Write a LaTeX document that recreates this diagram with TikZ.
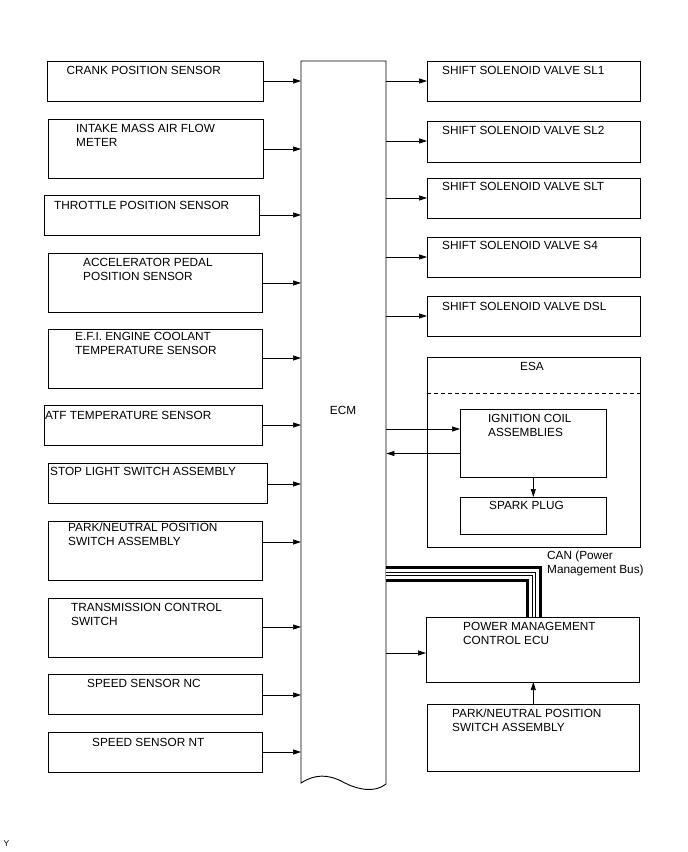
\documentclass[tikz,border=0pt]{standalone}
\usepackage{fontspec}
\setmainfont{Liberation Sans}
\usetikzlibrary{arrows.meta}
\newcommand\bx[5]{\node[box, minimum width={#4pt-#2pt}, minimum height={#5pt-#3pt}] (#1) at (#2,#3) {};}
\begin{document}
\begin{tikzpicture}[x=1pt,y=-1pt,
  box/.style={draw, line width=0.9pt, inner sep=0, outer sep=0, anchor=north west},
  lbl/.style={anchor=base west, inner sep=0, align=left, font=\fontsize{11.8}{14}\selectfont},
  arr/.style={line width=0.7pt, -{Triangle[length=8pt,width=5pt]}},
]
\useasboundingbox (0,0) rectangle (688,852);
% ECM
\node[inner sep=0, minimum width=85pt, minimum height=722pt, anchor=north west] (ecm) at (301,61) {};
\draw[line width=0.9pt] (301,783) -- (301,61) -- (386,61) -- (386,784)
  .. controls (375,793) and (358,790) .. (343,782)
  .. controls (328,774) and (315,774) .. (301,783) -- cycle;
\node[font=\fontsize{11.8}{14}\selectfont] (ecmt) at (343,410) {ECM};
% left boxes
\bx{crank}{47}{61}{263}{101}
\bx{intake}{48}{119}{263}{178}
\bx{throttle}{44}{195}{259}{235}
\bx{accel}{48}{253}{262}{312}
\bx{efi}{48}{329}{262}{388}
\bx{atf}{44}{405}{262}{445}
\bx{stop}{48}{463}{267}{503}
\bx{park}{48}{521}{262}{580}
\bx{trans}{48}{598}{262}{657}
\bx{nc}{48}{674}{262}{714}
\bx{nt}{48}{732}{262}{772}
\node[lbl] (crankt) at (66.5,74) {CRANK POSITION SENSOR};
\node[lbl] (intaket) at (76,146) {INTAKE MASS AIR FLOW\\METER};
\node[lbl] (throttlet) at (54,209) {THROTTLE POSITION SENSOR};
\node[lbl] (accelt) at (83,280.5) {ACCELERATOR PEDAL\\POSITION SENSOR};
\node[lbl] (efit) at (75,354) {E.F.I. ENGINE COOLANT\\TEMPERATURE SENSOR};
\node[lbl] (atft) at (45,419) {ATF TEMPERATURE SENSOR};
\node[lbl] (stopt) at (50,475.5) {STOP LIGHT SWITCH ASSEMBLY};
\node[lbl] (parkt) at (68,545.5) {PARK/NEUTRAL POSITION\\SWITCH ASSEMBLY};
\node[lbl] (transt) at (71,625) {TRANSMISSION CONTROL\\SWITCH};
\node[lbl] (nct) at (87,687.5) {SPEED SENSOR NC};
\node[lbl] (ntt) at (92,746.5) {SPEED SENSOR NT};
\foreach \n/\y in {crank/81,intake/149,throttle/215,accel/283,efi/358,atf/425,stop/484,park/542,trans/627,nc/695,nt/752}
  \draw[arr] (\n.east |- 0,\y) -- (ecm.west |- 0,\y);
% right boxes
\bx{sla}{427}{61}{640}{101}
\bx{slb}{427}{121}{640}{162}
\bx{slt}{427}{178}{640}{218}
\bx{sf}{427}{237}{640}{277}
\bx{dsl}{427}{296}{640}{336}
\node[lbl] (slat) at (442,74) {SHIFT SOLENOID VALVE SL1};
\node[lbl] (slbt) at (442,134) {SHIFT SOLENOID VALVE SL2};
\node[lbl] (sltt) at (442,190.5) {SHIFT SOLENOID VALVE SLT};
\node[lbl] (sft) at (442,249.5) {SHIFT SOLENOID VALVE S4};
\node[lbl] (dslt) at (442,310) {SHIFT SOLENOID VALVE DSL};
\foreach \n/\y in {sla/81,slb/141,slt/198,sf/257,dsl/316}
  \draw[arr] (ecm.east |- 0,\y) -- (\n.west |- 0,\y);
% ESA
\bx{esa}{427}{357}{640}{547}
\node[lbl] (esat) at (520,370) {ESA};
\draw[line width=0.6pt, dash pattern=on 4pt off 3pt] (esa.west |- 0,393) -- (esa.east |- 0,393);
\bx{ign}{460}{409}{606}{477}
\bx{spark}{460}{497}{606}{534}
\node[lbl] (ignt) at (488,436) {IGNITION COIL\\ASSEMBLIES};
\node[lbl] (sparkt) at (489,509.3) {SPARK PLUG};
\draw[arr] (ecm.east |- 0,429) -- (ign.west |- 0,429);
\draw[arr] (ign.west |- 0,453.5) -- (ecm.east |- 0,453.5);
\draw[arr] (ign.south -| 533.3,0) -- (spark.north -| 533.3,0);
% CAN bus
\bx{pm}{426}{617}{639}{682}
\node[lbl] (pmt) at (463,644) {POWER MANAGEMENT\\CONTROL ECU};
\coordinate (busa) at (ecm.east |- 0,574);
\coordinate (busb) at (533.5,574);
\coordinate (busc) at (pm.north -| 533.5,0);
\draw[line width=16pt, miter limit=10, line join=miter] (busa) -- (busb) -- (busc);
\draw[line width=10pt, white, line join=miter] (busa) -- (busb) -- (busc);
\draw[line width=4pt, line join=miter] (busa) -- (busb) -- (busc);
\draw[line width=2pt, white, line join=miter] (busa) -- (busb) -- (busc);
\node[lbl] (cant) at (547,573) {CAN (Power\\Management Bus)};
\draw[arr] (ecm.east |- 0,653) -- (pm.west |- 0,653);
\bx{parkb}{427}{704}{639}{771}
\node[lbl] (parkbt) at (452,731) {PARK/NEUTRAL POSITION\\SWITCH ASSEMBLY};
\draw[arr] (parkb.north -| 533.3,0) -- (pm.south -| 533.3,0);
\node[anchor=base west, inner sep=0, font=\fontsize{8.5}{10}\selectfont] (y) at (3.5,846) {Y};
\end{tikzpicture}
\end{document}
